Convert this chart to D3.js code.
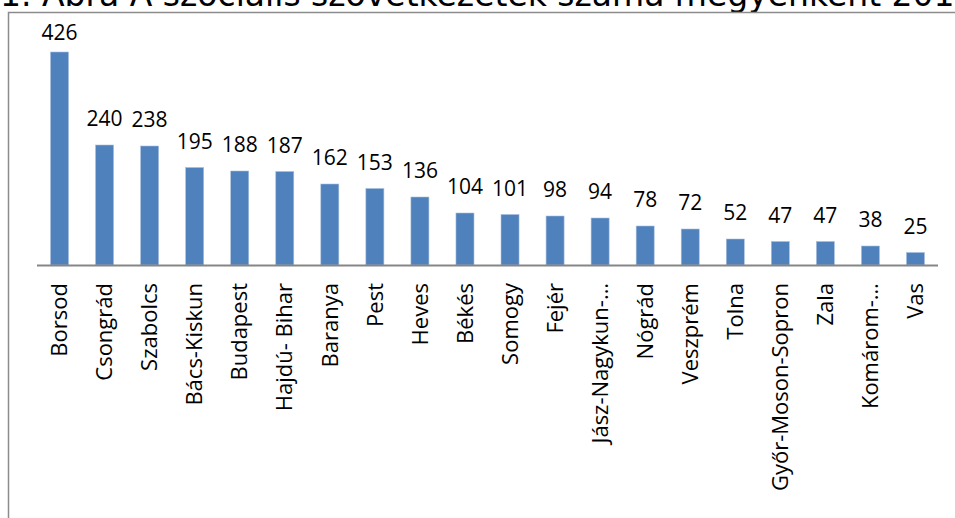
<!DOCTYPE html>
<html lang="hu">
<head>
  <meta charset="UTF-8">
  <title>Szociális szövetkezetek megyénként</title>
  <style>
    html, body {
      margin: 0;
      padding: 0;
      background: #fff;
    }
    svg {
      display: block;
    }
  </style>
</head>
<body>
<div class="chart"></div>
<script src="https://d3js.org/d3.v7.min.js"></script>
<script>
  const title = '1. Ábra A szociális szövetkezetek száma megyénként 2015'

  const counties = ['Borsod', 'Csongrád', 'Szabolcs', 'Bács-Kiskun', 'Budapest', 'Hajdú- Bihar',
    'Baranya', 'Pest', 'Heves', 'Békés', 'Somogy', 'Fejér', 'Jász-Nagykun-…', 'Nógrád',
    'Veszprém', 'Tolna', 'Győr-Moson-Sopron', 'Zala', 'Komárom-…', 'Vas']

  const counts = [426, 240, 238, 195, 188, 187, 162, 153, 136, 104, 101, 98, 94, 78, 72, 52, 47, 47, 38, 25]

  const width = 955, height = 518

  let svg = d3.select('.chart').append('svg')
    .attr('width', width)
    .attr('height', height)

  // title, mostly cut off at the top like the source image
  svg.append('text')
    .attr('x', 0)
    .attr('y', 6)
    .attr('font-family', 'DejaVu Sans')
    .attr('font-size', '33px')
    .attr('fill', '#000')
    .text(title)

  // chart frame
  svg.append('path')
    .attr('d', 'M8.5,' + (height + 5) + 'V12.5H' + (width + 5))
    .attr('fill', 'none')
    .attr('stroke', '#8c8c8c')
    .attr('stroke-width', 1.5)

  let x = d3.scaleBand()
    .domain(counties)
    .range([37, 938])
    .paddingInner(0.6)
    .paddingOuter(0.3)

  let y = d3.scaleLinear()
    .domain([0, 500])
    .range([265, 15])

  svg.selectAll('rect.bar')
    .data(counts)
    .enter()
    .append('rect')
    .attr('class', 'bar')
    .attr('x', (d, i) => x(counties[i]))
    .attr('y', d => y(d))
    .attr('width', x.bandwidth())
    .attr('height', d => y(0) - y(d))
    .attr('fill', '#4f81bd')
    .attr('stroke', '#a7bfdc')
    .attr('stroke-width', 0.6)

  // category axis line
  svg.append('line')
    .attr('x1', 37)
    .attr('x2', 938)
    .attr('y1', y(0) + 0.5)
    .attr('y2', y(0) + 0.5)
    .attr('stroke', '#868686')
    .attr('stroke-width', 2)

  svg.selectAll('text.value')
    .data(counts)
    .enter()
    .append('text')
    .attr('class', 'value')
    .attr('x', (d, i) => x(counties[i]) + x.bandwidth() / 2)
    .attr('y', d => Math.max(y(d) - 19, 40))
    .attr('text-anchor', 'middle')
    .attr('font-family', 'Open Sans')
    .attr('font-size', '21px')
    .attr('fill', '#000')
    .text(d => d)

  svg.selectAll('text.cat')
    .data(counties)
    .enter()
    .append('text')
    .attr('class', 'cat')
    .attr('transform', d => 'translate(' + (x(d) + x.bandwidth() / 2) + ',283) rotate(-90)')
    .attr('dy', '0.35em')
    .attr('text-anchor', 'end')
    .attr('font-family', 'Open Sans')
    .attr('font-size', '22px')
    .attr('fill', '#000')
    .text(d => d)
</script>
</body>
</html>
